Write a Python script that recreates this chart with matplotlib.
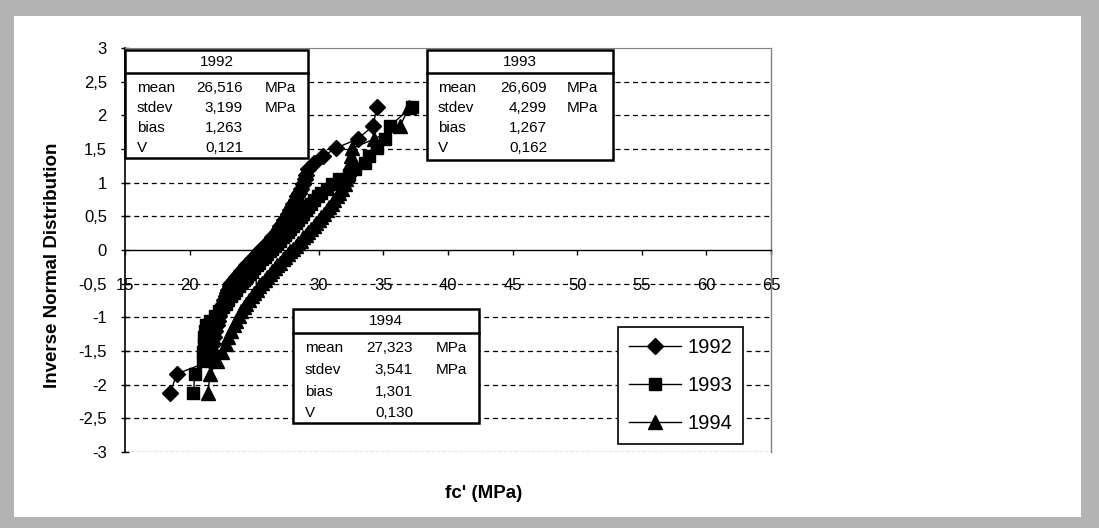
import numpy as np
import matplotlib
matplotlib.use('Agg')
import matplotlib.pyplot as plt
from matplotlib.patches import Rectangle
from matplotlib.lines import Line2D

plt.rcParams['font.family'] = ['Liberation Sans', 'DejaVu Sans']

# --- data ---
q_1992 = [-2.13, -1.84, -1.65, -1.51, -1.39, -1.29, -1.20, -1.12, -1.05, -0.98,
          -0.91, -0.85, -0.80, -0.74, -0.69, -0.64, -0.59, -0.54, -0.49, -0.45,
          -0.40, -0.36, -0.31, -0.27, -0.23, -0.19, -0.14, -0.10, -0.06, -0.02,
          0.02, 0.06, 0.10, 0.14, 0.19, 0.23, 0.27, 0.31, 0.36, 0.40,
          0.45, 0.49, 0.54, 0.59, 0.64, 0.69, 0.74, 0.80, 0.85, 0.91,
          0.98, 1.05, 1.12, 1.20, 1.29, 1.39, 1.51, 1.65, 1.84, 2.13]
fc_1992 = [18.5, 19.0, 21.6, 21.7, 21.8, 21.9, 22.0, 22.1, 22.2, 22.3,
           22.4, 22.5, 22.6, 22.7, 22.8, 22.9, 23.0, 23.1, 23.2, 23.4,
           23.6, 23.8, 24.0, 24.2, 24.4, 24.6, 24.8, 25.0, 25.2, 25.4,
           25.6, 25.8, 26.0, 26.2, 26.4, 26.6, 26.8, 26.9, 27.0, 27.2,
           27.3, 27.5, 27.6, 27.8, 27.9, 28.0, 28.2, 28.3, 28.5, 28.6,
           28.8, 28.9, 29.0, 29.2, 29.6, 30.3, 31.3, 33.0, 34.2, 34.5]

q_1993 = [-2.13, -1.84, -1.65, -1.51, -1.39, -1.29, -1.20, -1.12, -1.05, -0.98,
          -0.91, -0.85, -0.80, -0.74, -0.69, -0.64, -0.59, -0.54, -0.49, -0.45,
          -0.40, -0.36, -0.31, -0.27, -0.23, -0.19, -0.14, -0.10, -0.06, -0.02,
          0.02, 0.06, 0.10, 0.14, 0.19, 0.23, 0.27, 0.31, 0.36, 0.40,
          0.45, 0.49, 0.54, 0.59, 0.64, 0.69, 0.74, 0.80, 0.85, 0.91,
          0.98, 1.05, 1.12, 1.20, 1.29, 1.39, 1.51, 1.65, 1.84, 2.13]
fc_1993 = [20.3, 20.4, 21.0, 21.0, 21.1, 21.1, 21.2, 21.3, 21.6, 22.0,
           22.3, 22.6, 22.8, 23.0, 23.2, 23.4, 23.6, 23.8, 24.0, 24.2,
           24.4, 24.6, 24.8, 25.0, 25.2, 25.4, 25.6, 25.8, 26.0, 26.2,
           26.4, 26.6, 26.8, 27.0, 27.2, 27.4, 27.6, 27.8, 28.0, 28.2,
           28.4, 28.6, 28.8, 29.0, 29.2, 29.4, 29.6, 29.9, 30.2, 30.6,
           31.0, 31.6, 32.3, 32.8, 33.6, 33.9, 34.5, 35.1, 35.5, 37.2]

q_1994 = [-2.13, -1.84, -1.65, -1.51, -1.39, -1.29, -1.20, -1.12, -1.05, -0.98,
          -0.91, -0.85, -0.80, -0.74, -0.69, -0.64, -0.59, -0.54, -0.49, -0.45,
          -0.40, -0.36, -0.31, -0.27, -0.23, -0.19, -0.14, -0.10, -0.06, -0.02,
          0.02, 0.06, 0.10, 0.14, 0.19, 0.23, 0.27, 0.31, 0.36, 0.40,
          0.45, 0.49, 0.54, 0.59, 0.64, 0.69, 0.74, 0.80, 0.85, 0.91,
          0.98, 1.05, 1.12, 1.20, 1.29, 1.39, 1.51, 1.65, 1.84, 2.13]
fc_1994 = [21.4, 21.6, 22.1, 22.5, 22.8, 23.0, 23.2, 23.4, 23.6, 23.8,
           24.0, 24.2, 24.4, 24.6, 24.8, 25.0, 25.2, 25.4, 25.6, 25.8,
           26.0, 26.2, 26.4, 26.6, 26.8, 27.0, 27.2, 27.4, 27.6, 27.8,
           28.0, 28.2, 28.4, 28.6, 28.8, 29.0, 29.2, 29.4, 29.6, 29.8,
           30.0, 30.2, 30.4, 30.6, 30.8, 31.0, 31.2, 31.4, 31.6, 31.8,
           32.0, 32.1, 32.2, 32.3, 32.4, 32.5, 32.6, 34.3, 36.3, 37.0]

row_names = ['mean', 'stdev', 'bias', 'V']
row_units = ['MPa', 'MPa', '', '']
stats_1992 = ['26,516', '3,199', '1,263', '0,121']
stats_1993 = ['26,609', '4,299', '1,267', '0,162']
stats_1994 = ['27,323', '3,541', '1,301', '0,130']

x_ticks = [15, 20, 25, 30, 35, 40, 45, 50, 55, 60, 65]
y_ticks = [3, 2.5, 2, 1.5, 1, 0.5, 0, -0.5, -1, -1.5, -2, -2.5, -3]
y_labels = ['3', '2,5', '2', '1,5', '1', '0,5', '0', '-0,5', '-1', '-1,5', '-2', '-2,5', '-3']
grid_levels = [2.5, 2, 1.5, 1, 0.5, -0.5, -1, -1.5, -2, -2.5]

# --- figure in pixel terms ---
W, H = 1099, 528
def fx(px):
    return px / W
def fy(py):
    return 1 - py / H

fig = plt.figure(figsize=(W / 100, H / 100), dpi=100, facecolor='#b3b3b3')
fig.add_artist(Rectangle((fx(14), fy(517)), fx(1081) - fx(14), fy(16) - fy(517),
                         transform=fig.transFigure, facecolor='white',
                         edgecolor='none', zorder=-5))

ax = fig.add_axes([fx(125), fy(452), fx(771) - fx(125), fy(48) - fy(452)])
ax.set_xlim(15, 65)
ax.set_ylim(-3, 3)
ax.set_facecolor('white')

ax.hlines(grid_levels, 15, 65, colors='black', linestyles=(0, (4, 3)), lw=0.9, zorder=1)
ax.axhline(-3, color='#808080', ls=(0, (3, 1)), lw=1, zorder=1)

lines = []
for xs, ys, mk, ms, lab in [(fc_1992, q_1992, 'D', 8.5, '1992'),
                            (fc_1993, q_1993, 's', 9, '1993'),
                            (fc_1994, q_1994, '^', 10, '1994')]:
    ln, = ax.plot(xs, ys, color='black', lw=1, marker=mk, ms=ms,
                  mfc='black', mec='black', label=lab, zorder=3)
    lines.append(ln)

ax.spines['bottom'].set_position(('data', 0))
ax.spines['bottom'].set_linewidth(1)
ax.spines['left'].set_linewidth(1.2)
ax.spines['top'].set_color('#808080')
ax.spines['top'].set_linestyle((0, (3, 1)))
ax.spines['right'].set_color('#808080')
ax.spines['right'].set_linewidth(1)

ax.set_xticks(x_ticks)
ax.set_xticklabels([str(t) for t in x_ticks])
ax.set_yticks(y_ticks)
ax.set_yticklabels(y_labels)
ax.tick_params(axis='x', direction='out', length=3.5, width=1, pad=17, labelsize=12)
ax.tick_params(axis='y', direction='inout', length=6, width=1, pad=10, labelsize=12)

fig.text(fx(53), fy(265), 'Inverse Normal Distribution', rotation=90,
         ha='center', va='center', fontsize=13.5, fontweight='bold')
fig.text(fx(484), fy(493), "fc' (MPa)", ha='center', va='center',
         fontsize=13.5, fontweight='bold')

leg = ax.legend(handles=lines, loc='upper left',
                bbox_to_anchor=(fx(618), fy(327)), bbox_transform=fig.transFigure,
                frameon=True, fancybox=False, edgecolor='black', framealpha=1,
                fontsize=14.5, handlelength=2.6, handletextpad=0.3,
                labelspacing=0.95, borderpad=0.55, borderaxespad=0, numpoints=1)
leg.get_frame().set_linewidth(1.2)
leg.set_zorder(6)


def stat_box(x0, y0, x1, y1, yh, year, values, rows_y, col_name, col_val, col_unit):
    fig.add_artist(Rectangle((fx(x0), fy(y1)), fx(x1) - fx(x0), fy(y0) - fy(y1),
                             transform=fig.transFigure, facecolor='white',
                             edgecolor='black', lw=1.8, zorder=8))
    fig.add_artist(Line2D([fx(x0), fx(x1)], [fy(yh), fy(yh)],
                          transform=fig.transFigure, color='black', lw=1.8, zorder=9))
    fig.text(fx((x0 + x1) / 2), fy((y0 + yh) / 2), year, ha='center', va='center',
             fontsize=11, zorder=10)
    for name, val, unit, ry in zip(row_names, values, row_units, rows_y):
        fig.text(fx(col_name), fy(ry), name, ha='left', va='center', fontsize=11, zorder=10)
        fig.text(fx(col_val), fy(ry), val, ha='right', va='center', fontsize=11, zorder=10)
        if unit:
            fig.text(fx(col_unit), fy(ry), unit, ha='left', va='center', fontsize=11, zorder=10)


stat_box(125, 50, 308, 158, 73, '1992', stats_1992, [88, 108, 128, 148], 137, 243, 265)
stat_box(427, 50, 613, 160, 73, '1993', stats_1993, [88, 108, 128, 148], 438, 547, 567)
stat_box(293, 309, 479, 423, 333, '1994', stats_1994, [348, 370, 392, 413], 305, 413, 436)

fig.savefig('out.png', dpi=100, facecolor=fig.get_facecolor())
